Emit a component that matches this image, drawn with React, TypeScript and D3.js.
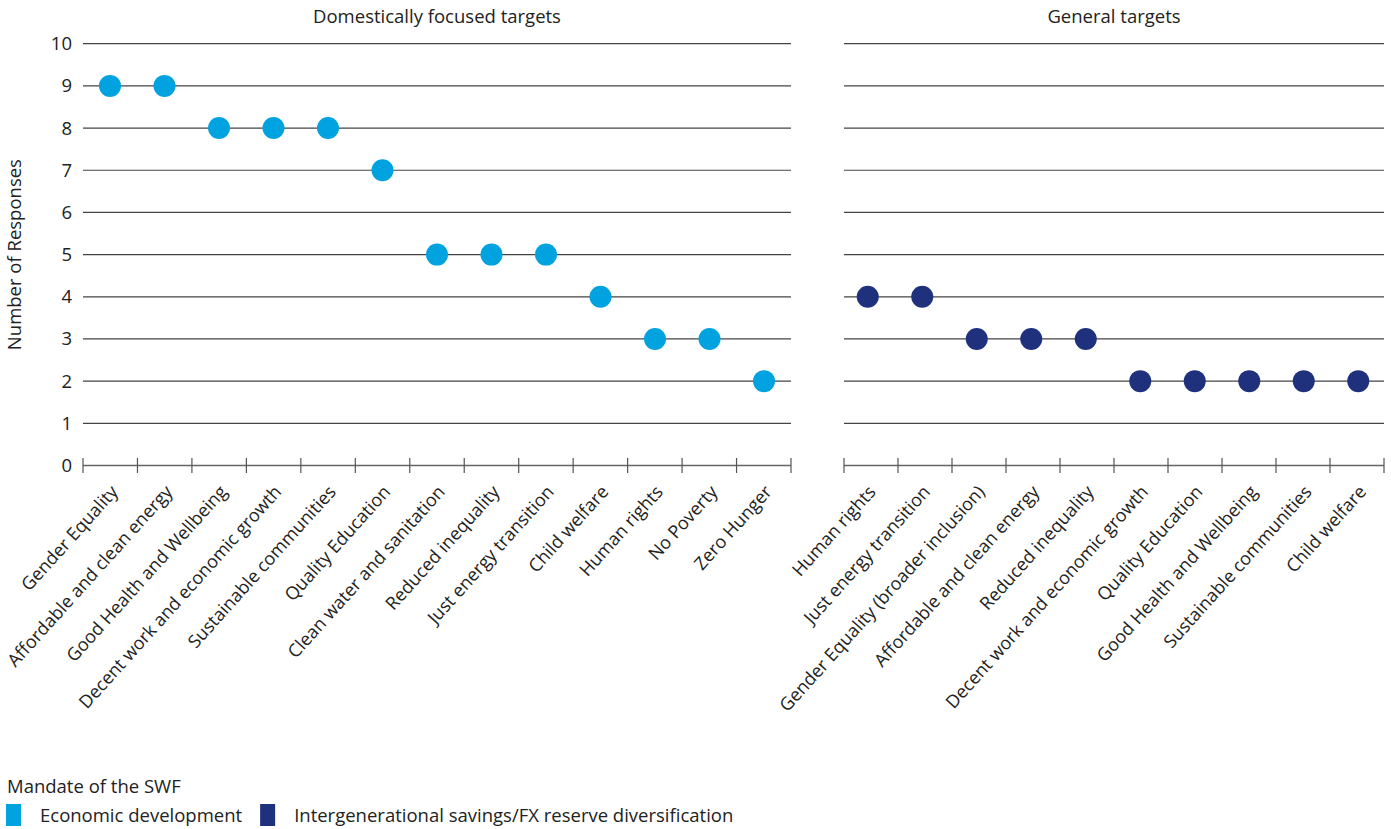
import React, { useEffect, useRef } from "react";
import * as d3 from "d3";

const domesticLabels = [
  "Gender Equality",
  "Affordable and clean energy",
  "Good Health and Wellbeing",
  "Decent work and economic growth",
  "Sustainable communities",
  "Quality Education",
  "Clean water and sanitation",
  "Reduced inequality",
  "Just energy transition",
  "Child welfare",
  "Human rights",
  "No Poverty",
  "Zero Hunger",
];
const domesticValues = [9, 9, 8, 8, 8, 7, 5, 5, 5, 4, 3, 3, 2];

const generalLabels = [
  "Human rights",
  "Just energy transition",
  "Gender Equality (broader inclusion)",
  "Affordable and clean energy",
  "Reduced inequality",
  "Decent work and economic growth",
  "Quality Education",
  "Good Health and Wellbeing",
  "Sustainable communities",
  "Child welfare",
];
const generalValues = [4, 4, 3, 3, 3, 2, 2, 2, 2, 2];

const yTicks = [0, 1, 2, 3, 4, 5, 6, 7, 8, 9, 10];
const legendItems = ["Economic development", "Intergenerational savings/FX reserve diversification"];
const colors = ["#00a3e0", "#1f317d"];

export default function App() {
  const svgRef = useRef<SVGSVGElement>(null);

  useEffect(() => {
    const width = 1391;
    const height = 829;
    const fs = 18.5;
    const svg = d3.select(svgRef.current);
    svg.selectAll("*").remove();
    svg.attr("width", width).attr("height", height);
    svg.style("font-family", "'Open Sans', sans-serif");

    const yScale = d3.scaleLinear().domain([0, 10]).range([465.5, 43.7]);

    const panels = [
      { title: "Domestically focused targets", labels: domesticLabels, values: domesticValues, x0: 83, x1: 791, d0: 82.75, d1: 791.25, color: colors[0] },
      { title: "General targets", labels: generalLabels, values: generalValues, x0: 844, x1: 1384, d0: 840.5, d1: 1385.5, color: colors[1] },
    ];

    // y axis labels
    svg
      .append("g")
      .selectAll("text")
      .data(yTicks)
      .join("text")
      .attr("x", 72)
      .attr("y", (d) => yScale(d))
      .attr("dy", "0.35em")
      .attr("text-anchor", "end")
      .attr("font-size", fs)
      .attr("fill", "#222")
      .text((d) => d);

    svg
      .append("text")
      .attr("transform", `translate(21, ${yScale(5)}) rotate(-90)`)
      .attr("text-anchor", "middle")
      .attr("font-size", fs)
      .attr("fill", "#222")
      .text("Number of Responses");

    panels.forEach((p) => {
      const xScale = d3.scaleBand<string>().domain(p.labels).range([p.x0, p.x1]);
      const dotScale = d3.scaleBand<string>().domain(p.labels).range([p.d0, p.d1]);
      const cx = (d: string) => dotScale(d)! + dotScale.bandwidth() / 2;
      const g = svg.append("g");

      // gridlines
      g.selectAll("line.grid")
        .data(yTicks.filter((d) => d > 0))
        .join("line")
        .attr("x1", p.x0)
        .attr("x2", p.x1)
        .attr("y1", (d) => yScale(d))
        .attr("y2", (d) => yScale(d))
        .attr("stroke", "#444")
        .attr("stroke-width", 1.2);

      // x axis line and ticks
      const y0 = yScale(0);
      g.append("line")
        .attr("x1", p.x0)
        .attr("x2", p.x1)
        .attr("y1", y0)
        .attr("y2", y0)
        .attr("stroke", "#666")
        .attr("stroke-width", 1.5);

      const tickPos = p.labels.map((l) => xScale(l)!).concat([p.x1]);
      g.selectAll("line.tick")
        .data(tickPos)
        .join("line")
        .attr("x1", (d) => d)
        .attr("x2", (d) => d)
        .attr("y1", y0 - 7.5)
        .attr("y2", y0 + 7.5)
        .attr("stroke", "#555")
        .attr("stroke-width", 1.2);

      // category labels
      g.selectAll("text.cat")
        .data(p.labels)
        .join("text")
        .attr("transform", (d) => `translate(${cx(d) + 9}, ${y0 + 27}) rotate(-48)`)
        .attr("text-anchor", "end")
        .attr("font-size", 18)
        .attr("fill", "#222")
        .text((d) => d);

      // title
      g.append("text")
        .attr("x", (p.x0 + p.x1) / 2)
        .attr("y", 23)
        .attr("text-anchor", "middle")
        .attr("font-size", fs)
        .attr("fill", "#222")
        .text(p.title);

      // dots
      g.selectAll("circle")
        .data(p.values)
        .join("circle")
        .attr("cx", (_, i) => cx(p.labels[i]))
        .attr("cy", (d) => yScale(d))
        .attr("r", 11)
        .attr("fill", p.color);
    });

    // legend
    svg
      .append("text")
      .attr("x", 7)
      .attr("y", 793)
      .attr("font-size", fs)
      .attr("fill", "#222")
      .text("Mandate of the SWF");

    const lg = svg.append("g");
    let lx = 6;
    legendItems.forEach((name, i) => {
      lg.append("rect")
        .attr("x", lx)
        .attr("y", 804)
        .attr("width", 15)
        .attr("height", 22)
        .attr("fill", colors[i]);
      const t = lg
        .append("text")
        .attr("x", lx + 34)
        .attr("y", 822)
        .attr("font-size", fs)
        .attr("fill", "#222")
        .text(name);
      const w = (t.node() as SVGTextElement).getComputedTextLength();
      lx = lx + 34 + w + 18;
    });
  }, []);

  return (
    <div style={{ position: "absolute", left: 0, top: 0 }}>
      <svg ref={svgRef}></svg>
    </div>
  );
}
